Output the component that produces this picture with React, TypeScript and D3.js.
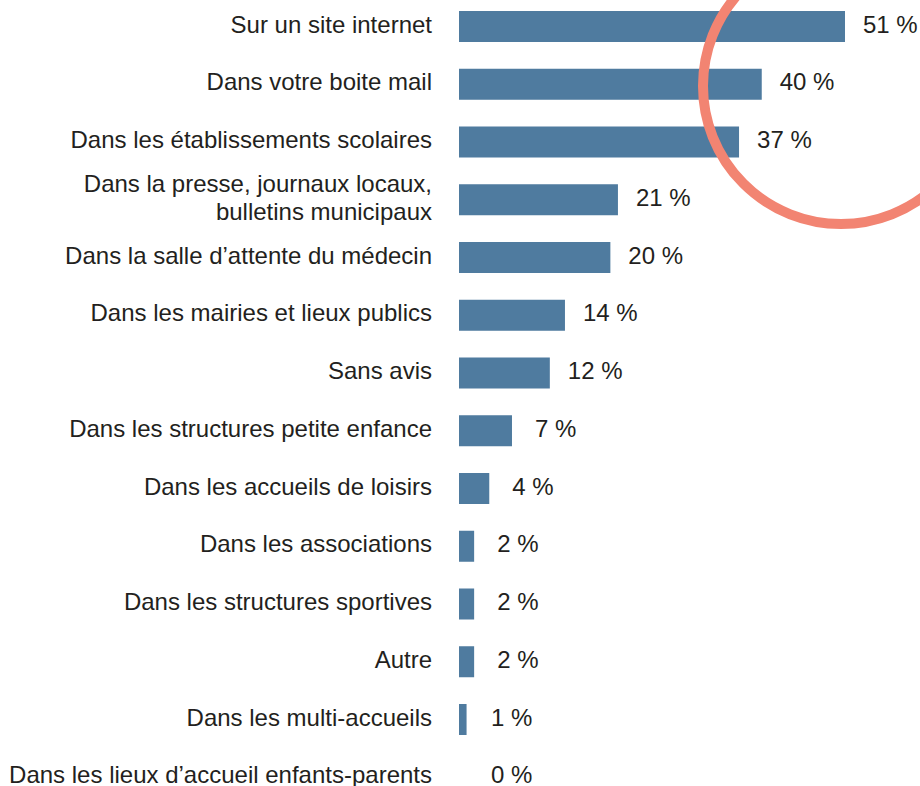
import React, { useRef, useEffect } from 'react';
import * as d3 from 'd3';

const categories: string[][] = [
  ['Sur un site internet'],
  ['Dans votre boite mail'],
  ['Dans les établissements scolaires'],
  ['Dans la presse, journaux locaux,', 'bulletins municipaux'],
  ['Dans la salle d’attente du médecin'],
  ['Dans les mairies et lieux publics'],
  ['Sans avis'],
  ['Dans les structures petite enfance'],
  ['Dans les accueils de loisirs'],
  ['Dans les associations'],
  ['Dans les structures sportives'],
  ['Autre'],
  ['Dans les multi-accueils'],
  ['Dans les lieux d’accueil enfants-parents'],
];

const values: number[] = [51, 40, 37, 21, 20, 14, 12, 7, 4, 2, 2, 2, 1, 0];

const width = 920;
const height = 786;

function App() {
  const ref = useRef<SVGSVGElement>(null);

  useEffect(() => {
    const svg = d3.select(ref.current);
    svg.selectAll('*').remove();

    const font = '"Liberation Sans", Arial, sans-serif';
    const idx = d3.range(categories.length);

    const x = d3.scaleLinear().domain([0, 51]).range([459, 845]);
    const y = d3.scalePoint<number>().domain(idx).range([26.5, 777.25]);
    const barH = 31;

    // bars
    svg.append('g')
      .selectAll('rect')
      .data(idx)
      .join('rect')
      .attr('x', x(0))
      .attr('y', i => y(i)! - barH / 2)
      .attr('width', i => x(values[i]) - x(0))
      .attr('height', barH)
      .attr('fill', '#4f7b9f');

    // category labels
    const lab = svg.append('g')
      .attr('font-family', font)
      .attr('font-size', 24)
      .attr('fill', '#231f20')
      .attr('text-anchor', 'end');

    idx.forEach(i => {
      const lines = categories[i];
      const t = lab.append('text')
        .attr('x', 432)
        .attr('y', y(i)! + 6 - (lines.length - 1) * 14);
      lines.forEach((l, k) => {
        t.append('tspan')
          .attr('x', 432)
          .attr('dy', k === 0 ? 0 : 28)
          .text(l);
      });
    });

    // value labels
    svg.append('g')
      .attr('font-family', font)
      .attr('font-size', 24)
      .attr('fill', '#231f20')
      .selectAll('text')
      .data(idx)
      .join('text')
      .attr('x', i => Math.max(x(values[i]) + (values[i] < 10 ? 23 : 18), x(0) + 32))
      .attr('y', i => y(i)! + 6)
      .text(i => `${values[i]} %`);

    // highlight ring
    svg.append('circle')
      .attr('cx', 841)
      .attr('cy', 86)
      .attr('r', 138)
      .attr('fill', 'none')
      .attr('stroke', '#f28472')
      .attr('stroke-width', 10);
  }, []);

  return (
    <svg
      ref={ref}
      width={width}
      height={height}
      style={{ position: 'absolute', left: 0, top: 0, display: 'block', background: '#fff' }}
    />
  );
}

export default App;
